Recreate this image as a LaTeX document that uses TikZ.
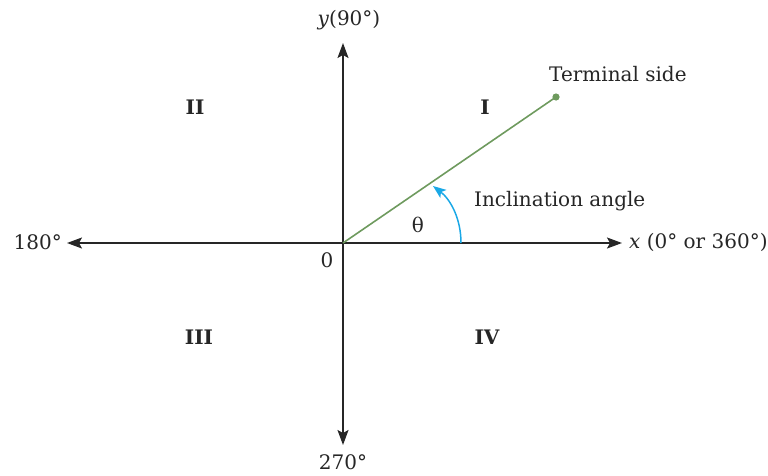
\documentclass[tikz,border=0pt]{standalone}
\usepackage{fontspec}
\setmainfont{DejaVu Serif}
\usetikzlibrary{arrows.meta}
\definecolor{termgreen}{HTML}{6E9A5E}
\definecolor{arccyan}{HTML}{1AA8E6}

\begin{document}
\begin{tikzpicture}[
  x=1pt, y=-1pt,
  axis/.style={draw=black!85, line width=1.5pt, {Stealth[length=15pt,width=11pt,inset=3pt]}-{Stealth[length=15pt,width=11pt,inset=3pt]}},
  lbl/.style={font=\fontsize{20}{24}\selectfont, text=black!85, inner sep=0pt},
  quad/.style={font=\fontsize{20}{24}\selectfont\bfseries, text=black!85, inner sep=0pt},
  term/.style={draw=termgreen, line width=1.6pt},
  incl/.style={draw=arccyan, line width=1.5pt, -{Stealth[length=13pt,width=10pt,inset=3pt]}}
]
\useasboundingbox (0,0) rectangle (768,475);

% --- axes ---
\coordinate (o) at (343,243);
\coordinate (xl) at (67,243);
\coordinate (xr) at (622,243);
\coordinate (yt) at (343,43);
\coordinate (yb) at (343,445);
\draw[axis] (xl) -- (xr);
\draw[axis] (yb) -- (yt);

% --- axis labels ---
\node[lbl] (ylab) at (349,20) {\textit{y}(90°)};
\node[lbl, anchor=east] (lab180) at (62,242) {180°};
\node[lbl, anchor=west] (xlab) at (629,242) {\textit{x} (0° or 360°)};
\node[lbl] (lab270) at (343,462) {270°};
\node[lbl] (zero) at (327,260) {0};

% --- quadrants ---
\node[quad] (q1) at (485,107) {I};
\node[quad] (q2) at (195,107) {II};
\node[quad] (q3) at (199,337) {III};
\node[quad] (q4) at (487,337) {IV};

% --- terminal side ---
\coordinate (tend) at (556,97);
\draw[term] (o) -- (tend);
\fill[termgreen] (tend) circle (3.6pt);
\node[lbl, anchor=west] (tlab) at (549,74) {Terminal side};

% --- inclination angle ---
\coordinate (astart) at (461,243);
\coordinate (aend) at (433,186);
\draw[incl] (astart) .. controls (461,218) and (450,199) .. (aend);
\node[lbl] (theta) at (418,225) {θ};
\node[lbl, anchor=west] (ilab) at (474,201) {Inclination angle};
\end{tikzpicture}
\end{document}
